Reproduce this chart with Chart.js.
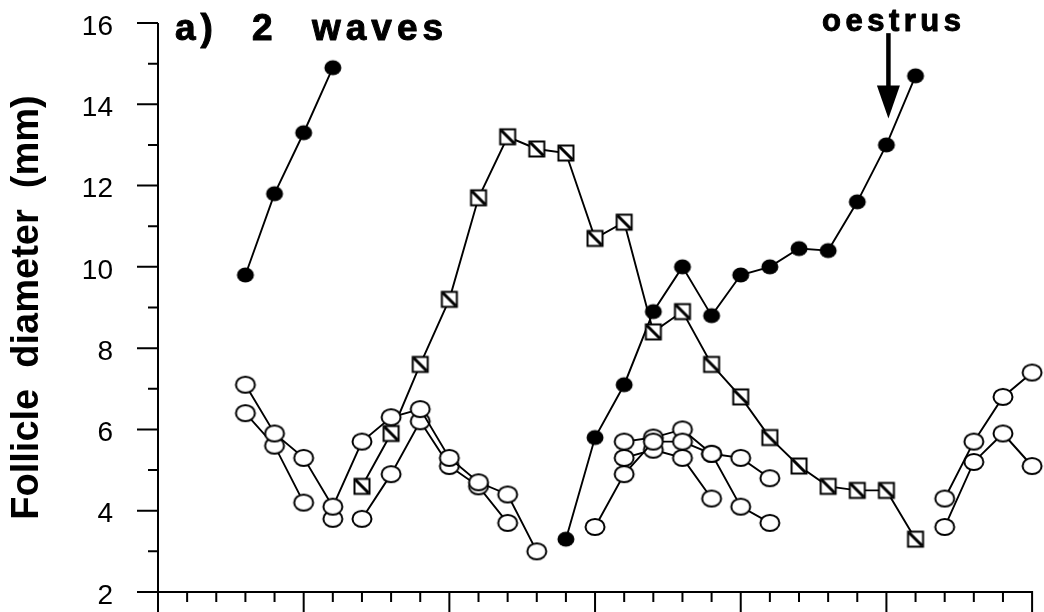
<!DOCTYPE html>
<html>
<head>
<meta charset="utf-8">
<style>
  html, body { margin: 0; padding: 0; background: #fff; }
  #wrap { width: 1044px; height: 612px; }
</style>
<script src="https://cdn.jsdelivr.net/npm/chart.js@4/dist/chart.umd.min.js"></script>
</head>
<body>
<div id="wrap"><canvas id="c" width="1044" height="612"></canvas></div>
<script>
// Follicle diameters (mm) by day of the cycle, one array pair per follicle
const prevOvDays = [3, 4, 5, 6];
const prevOvDiam = [9.8, 11.8, 13.3, 14.9];

const subADays = [3, 4, 5, 6, 7, 8, 9, 10, 11, 12, 13];
const subADiam = [7.1, 5.9, 5.3, 4.1, 5.7, 6.3, 6.5, 5.3, 4.7, 4.4, 3.0];

const subBDays = [3, 4, 5];
const subBDiam = [6.4, 5.6, 4.2];

const subSingleDays = [6];
const subSingleDiam = [3.8];

const subCDays = [7, 8, 9, 10, 11, 12];
const subCDiam = [3.8, 4.9, 6.2, 5.1, 4.6, 3.7];

const domW1Days = [7, 8, 9, 10, 11, 12, 13, 14, 15, 16, 17, 18, 19, 20, 21, 22, 23, 24, 25, 26];
const domW1Diam = [4.6, 5.9, 7.6, 9.2, 11.7, 13.2, 12.9, 12.8, 10.7, 11.1, 8.4, 8.9, 7.6, 6.8, 5.8, 5.1, 4.6, 4.5, 4.5, 3.3];

const ovDays = [14, 15, 16, 17, 18, 19, 20, 21, 22, 23, 24, 25, 26];
const ovDiam = [3.3, 5.8, 7.1, 8.9, 10.0, 8.8, 9.8, 10.0, 10.45, 10.4, 11.6, 13.0, 14.7];

const subEDays = [15, 16, 17, 18, 19, 20, 21];
const subEDiam = [3.6, 4.9, 5.7, 5.7, 5.4, 4.1, 3.7];

const subFDays = [16, 17, 18, 19, 20, 21];
const subFDiam = [5.7, 5.8, 6.0, 5.4, 5.3, 4.8];

const subGDays = [16, 17, 18, 19];
const subGDiam = [5.3, 5.5, 5.3, 4.3];

const nextHDays = [27, 28, 29, 30];
const nextHDiam = [4.3, 5.7, 6.8, 7.4];

const nextIDays = [27, 28, 29, 30];
const nextIDiam = [3.6, 5.2, 5.9, 5.1];

// Axis ranges and annotations
const dayRange = [0, 30];
const diamRange = [2, 16];
const yTickValues = [2, 4, 6, 8, 10, 12, 14, 16];
const panelLabel = ['a)', '2', 'waves'];
const oestrusLabel = 'oestrus';
const oestrusDay = 25;
const oestrusArrowTip = 13.65;
const oestrusArrowTail = 15.75;

// Marker images
function makeMarker(kind) {
  const c = document.createElement('canvas');
  const w = 24, h = 22;
  c.width = w; c.height = h;
  const g = c.getContext('2d');
  g.lineWidth = 2;
  g.strokeStyle = '#000';
  if (kind === 'dot') {
    g.fillStyle = '#000';
    g.beginPath();
    g.ellipse(w / 2, h / 2, 8.5, 7.5, 0, 0, Math.PI * 2);
    g.fill();
  } else if (kind === 'ring') {
    g.fillStyle = '#fff';
    g.beginPath();
    g.ellipse(w / 2, h / 2, 9.5, 8, 0, 0, Math.PI * 2);
    g.fill();
    g.stroke();
  } else {
    const s = 15;
    const x0 = (w - s) / 2, y0 = (h - s) / 2;
    g.fillStyle = '#fff';
    g.fillRect(x0, y0, s, s);
    g.strokeRect(x0, y0, s, s);
    g.lineWidth = 3;
    g.beginPath();
    g.moveTo(x0 + 1, y0 + 1);
    g.lineTo(x0 + s - 1, y0 + s - 1);
    g.stroke();
  }
  return c;
}
const dotImg = makeMarker('dot');
const ringImg = makeMarker('ring');
const boxImg = makeMarker('box');

function series(days, diam, img) {
  return {
    data: days.map((d, i) => ({ x: d, y: diam[i] })),
    borderColor: '#000',
    borderWidth: 1.9,
    pointStyle: img,
    pointRadius: 10,
    pointHoverRadius: 10,
    fill: false,
    tension: 0,
    clip: false
  };
}

const datasets = [
  series(prevOvDays, prevOvDiam, dotImg),
  series(subADays, subADiam, ringImg),
  series(subBDays, subBDiam, ringImg),
  series(subSingleDays, subSingleDiam, ringImg),
  series(subCDays, subCDiam, ringImg),
  series(subEDays, subEDiam, ringImg),
  series(subFDays, subFDiam, ringImg),
  series(subGDays, subGDiam, ringImg),
  series(nextHDays, nextHDiam, ringImg),
  series(nextIDays, nextIDiam, ringImg),
  series(domW1Days, domW1Diam, boxImg),
  series(ovDays, ovDiam, dotImg)
];

// Heavy lettering: fill plus a thin outline
function heavyText(ctx, text, x, y) {
  ctx.fillText(text, x, y);
  ctx.strokeText(text, x, y);
}

// Axes with outward ticks, panel label and oestrus arrow
const decorations = {
  id: 'decorations',
  afterDatasetsDraw(chart) {
    const ctx = chart.ctx;
    const xs = chart.scales.x, ys = chart.scales.y;
    const x0 = xs.getPixelForValue(dayRange[0]);
    const x1 = xs.getPixelForValue(dayRange[1]);
    const yb = ys.getPixelForValue(diamRange[0]);
    const yt = ys.getPixelForValue(diamRange[1]);
    ctx.save();
    ctx.strokeStyle = '#000';
    ctx.lineWidth = 2;
    ctx.lineCap = 'butt';
    ctx.beginPath();
    ctx.moveTo(x0, yt); ctx.lineTo(x0, yb);
    ctx.moveTo(x0 - 1, yb); ctx.lineTo(x1 + 1, yb);
    for (let v = diamRange[0]; v <= diamRange[1]; v++) {
      const py = ys.getPixelForValue(v);
      const len = v % 2 === 0 ? 21 : 10;
      ctx.moveTo(x0, py); ctx.lineTo(x0 - len, py);
    }
    for (let d = dayRange[0]; d <= dayRange[1]; d++) {
      const px = xs.getPixelForValue(d);
      const len = d % 5 === 0 ? 22 : 10;
      ctx.moveTo(px, yb); ctx.lineTo(px, yb + len);
    }
    ctx.stroke();

    // panel label
    ctx.fillStyle = '#000';
    ctx.lineWidth = 1;
    ctx.lineJoin = 'round';
    ctx.textBaseline = 'alphabetic';
    ctx.textAlign = 'left';
    ctx.font = 'bold 37px "Liberation Sans", Arial, sans-serif';
    if ('letterSpacing' in ctx) ctx.letterSpacing = '5px';
    heavyText(ctx, panelLabel[0], 175, 40);
    heavyText(ctx, panelLabel[1], 252, 40);
    heavyText(ctx, panelLabel[2], 312, 40);

    // oestrus marker
    ctx.font = 'bold 31px "Liberation Sans", Arial, sans-serif';
    if ('letterSpacing' in ctx) ctx.letterSpacing = '4.5px';
    heavyText(ctx, oestrusLabel, 822, 31);
    if ('letterSpacing' in ctx) ctx.letterSpacing = '0px';
    const ax = xs.getPixelForValue(oestrusDay) + 2;
    const tip = ys.getPixelForValue(oestrusArrowTip);
    const tail = ys.getPixelForValue(oestrusArrowTail);
    ctx.lineWidth = 4.5;
    ctx.beginPath();
    ctx.moveTo(ax, tail);
    ctx.lineTo(ax, tip - 28);
    ctx.stroke();
    ctx.beginPath();
    ctx.moveTo(ax - 11.5, tip - 33);
    ctx.lineTo(ax + 11.5, tip - 33);
    ctx.lineTo(ax, tip);
    ctx.closePath();
    ctx.fill();
    ctx.restore();
  }
};

new Chart(document.getElementById('c'), {
  type: 'line',
  data: { datasets },
  plugins: [decorations],
  options: {
    responsive: false,
    animation: false,
    events: [],
    layout: { padding: { left: 0, right: 9, top: 23, bottom: 20 } },
    plugins: { legend: { display: false }, tooltip: { enabled: false } },
    scales: {
      x: {
        type: 'linear',
        min: dayRange[0],
        max: dayRange[1],
        display: false
      },
      y: {
        type: 'linear',
        min: diamRange[0],
        max: diamRange[1],
        afterFit(scale) {
          scale.width = 158;
          scale.paddingTop = 0;
          scale.paddingBottom = 0;
        },
        afterBuildTicks(scale) {
          scale.ticks = yTickValues.map(v => ({ value: v }));
        },
        grid: { display: false, drawTicks: false },
        border: { display: false },
        ticks: {
          padding: 45,
          labelOffset: 4,
          color: '#000',
          font: { family: '"Liberation Sans", Arial, sans-serif', size: 28 },
          callback: v => String(v)
        },
        title: {
          display: true,
          text: 'Follicle  diameter  (mm)',
          color: '#000',
          font: { family: '"Liberation Sans", Arial, sans-serif', size: 38, weight: 'bold' },
          padding: { top: 5, bottom: 0 }
        }
      }
    }
  }
});
</script>
</body>
</html>
